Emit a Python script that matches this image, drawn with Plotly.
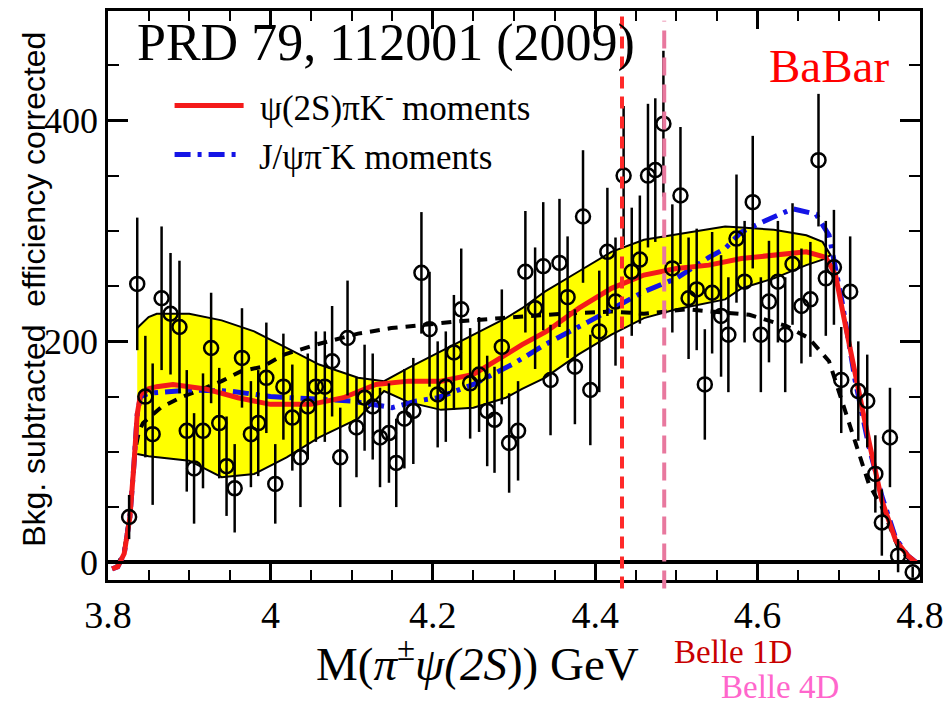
import plotly.graph_objects as go

# ---------------- data ----------------
# measured points: M(pi psi(2S)) [GeV], yield, symmetric error
mass = [3.826, 3.836, 3.846, 3.855, 3.866, 3.877, 3.888, 3.897, 3.906, 3.917,
        3.927, 3.937, 3.946, 3.956, 3.965, 3.976, 3.985, 3.995, 4.006, 4.016,
        4.027, 4.037, 4.046, 4.056, 4.067, 4.076, 4.086, 4.095, 4.106, 4.116,
        4.126, 4.135, 4.146, 4.155, 4.165, 4.176, 4.186, 4.196, 4.206, 4.216,
        4.226, 4.235, 4.246, 4.257, 4.267, 4.276, 4.285, 4.294, 4.305, 4.314,
        4.326, 4.336, 4.345, 4.356, 4.366, 4.375, 4.385, 4.394, 4.405, 4.415,
        4.425, 4.435, 4.445, 4.455, 4.465, 4.474, 4.484, 4.495, 4.505, 4.515,
        4.525, 4.535, 4.544, 4.555, 4.564, 4.574, 4.584, 4.594, 4.604, 4.614,
        4.625, 4.634, 4.643, 4.654, 4.665, 4.675, 4.684, 4.694, 4.703, 4.714,
        4.724, 4.735, 4.745, 4.753, 4.763, 4.773, 4.791]
counts = [41, 252, 150, 116, 239, 225, 213, 119, 85, 119,
          194, 126, 87, 67, 185, 116, 126, 167, 71, 159,
          131, 95, 141, 159, 159, 182, 95, 203, 122, 149,
          141, 113, 117, 90, 130, 137, 262, 211, 152, 159,
          190, 229, 162, 170, 137, 129, 195, 108, 119, 263,
          230, 268, 165, 271, 240, 177, 313, 156, 209, 281,
          236, 350, 263, 274, 350, 355, 397, 266, 332, 239,
          247, 161, 244, 223, 206, 293, 254, 326, 206, 236,
          254, 206, 270, 232, 238, 364, 257, 267, 165, 245,
          155, 146, 80, 36, 113, 6, -9]
errors = [20, 60, 55, 64, 65, 55, 60, 55, 50, 52,
          50, 50, 45, 40, 45, 48, 48, 50, 36, 48,
          48, 45, 48, 50, 50, 50, 45, 52, 45, 48,
          48, 45, 45, 40, 45, 48, 55, 52, 48, 50,
          52, 55, 50, 52, 50, 48, 52, 45, 45, 55,
          55, 58, 50, 58, 55, 52, 60, 50, 55, 58,
          58, 63, 58, 58, 65, 65, 66, 58, 62, 55,
          55, 50, 55, 55, 52, 58, 55, 60, 52, 55,
          55, 52, 55, 52, 52, 60, 52, 52, 48, 50,
          45, 42, 35, 30, 45, 15, 5]

# psi(2S) pi K moments (red)
red_x = [3.805, 3.812, 3.820, 3.827, 3.832, 3.836, 3.840, 3.850, 3.860, 3.880,
         3.900, 3.920, 3.960, 4.000, 4.050, 4.090, 4.130, 4.170, 4.210, 4.250,
         4.290, 4.310, 4.340, 4.380, 4.420, 4.460, 4.500, 4.540, 4.580, 4.620,
         4.660, 4.684, 4.696, 4.708, 4.720, 4.737, 4.753, 4.770, 4.785, 4.795]
red_y = [-6, -4, 8, 41, 89, 134, 152, 157, 159, 161,
         159, 157, 149, 143, 143, 149, 161, 164, 164, 170,
         188, 197, 209, 230, 248, 260, 266, 269, 275, 278,
         281, 276, 260, 215, 170, 110, 56, 20, 6, 0]

# error band of red curve
band_x = [3.836, 3.850, 3.860, 3.900, 3.940, 3.980, 4.020, 4.060, 4.108, 4.140,
          4.170, 4.210, 4.250, 4.290, 4.310, 4.338, 4.379, 4.420, 4.460, 4.500,
          4.560, 4.580, 4.620, 4.660, 4.680, 4.690]
band_hi = [212, 222, 225, 225, 219, 209, 194, 179, 167, 164,
           176, 191, 206, 221, 230, 245, 263, 281, 292, 297,
           304, 303, 301, 296, 290, 278]
band_lo = [98, 96, 95, 92, 77, 80, 95, 113, 130, 155,
           145, 138, 140, 149, 157, 167, 188, 206, 221, 229,
           238, 248, 257, 269, 274, 278]

# J/psi pi K moments (blue)
blue_x = [3.805, 3.812, 3.820, 3.827, 3.832, 3.836, 3.840, 3.850, 3.900, 3.950,
          4.000, 4.050, 4.100, 4.150, 4.180, 4.206, 4.250, 4.300, 4.338, 4.400,
          4.460, 4.500, 4.540, 4.560, 4.580, 4.615, 4.643, 4.672, 4.688, 4.704,
          4.720, 4.737, 4.753, 4.770, 4.785, 4.795]
blue_y = [-6, -4, 8, 41, 89, 134, 150, 153, 156, 155,
          150, 148, 146, 140, 146, 149, 161, 180, 197, 221,
          245, 257, 276, 284, 299, 311, 320, 315, 296, 236,
          165, 105, 60, 22, 6, 0]

# black dashed curve
black_x = [3.810, 3.820, 3.828, 3.833, 3.838, 3.843, 3.865, 3.889, 3.920, 3.940,
           3.964, 3.990, 4.017, 4.041, 4.056, 4.108, 4.149, 4.190, 4.230, 4.283,
           4.360, 4.420, 4.460, 4.513, 4.540, 4.590, 4.635, 4.663, 4.688, 4.708,
           4.720, 4.737, 4.753, 4.773, 4.790]
black_y = [-5, 10, 50, 100, 118, 126, 140, 149, 158, 164,
           173, 177, 188, 194, 197, 207, 212, 215, 218, 221,
           225, 227, 225, 229, 227, 224, 214, 203, 182, 137,
           110, 71, 50, 14, 0]

belle_1d_mass = 4.433
belle_4d_mass = 4.485

x_tickvals = [3.8, 4.0, 4.2, 4.4, 4.6, 4.8]
x_ticktext = ["3.8", "4", "4.2", "4.4", "4.6", "4.8"]
y_tickvals = [0, 200, 400]
y_ticktext = ["0", "200", "400"]

SERIF = "Liberation Serif"
SANS = "Liberation Sans"

fig = go.Figure()

# yellow band
fig.add_trace(go.Scatter(
    x=band_x + band_x[::-1], y=band_hi + band_lo[::-1],
    mode="lines", fill="toself", fillcolor="#ffff00",
    line=dict(color="black", width=2), hoverinfo="skip", showlegend=False))

# black dashed
fig.add_trace(go.Scatter(x=black_x, y=black_y, mode="lines",
                         line=dict(color="black", width=4, dash="10px,8px"),
                         showlegend=False))
# blue dash-dot
fig.add_trace(go.Scatter(x=blue_x, y=blue_y, mode="lines",
                         line=dict(color="#1414e6", width=5, dash="16px,7px,4px,7px"),
                         showlegend=False))
# red solid
fig.add_trace(go.Scatter(x=red_x, y=red_y, mode="lines",
                         line=dict(color="#f41a1a", width=5),
                         showlegend=False))
# data points
fig.add_trace(go.Scatter(
    x=mass, y=counts, mode="markers",
    marker=dict(symbol="circle-open", size=14, color="black",
                line=dict(color="black", width=2.5)),
    error_y=dict(type="data", array=errors, color="black", thickness=2.5, width=0),
    showlegend=False))

shapes = []
# Belle vertical lines
shapes.append(dict(type="line", xref="x", yref="paper", x0=belle_1d_mass, x1=belle_1d_mass,
                   y0=-0.015, y1=1.0, line=dict(color="#ff2a2a", width=4, dash="12px,8px"),
                   layer="above"))
shapes.append(dict(type="line", xref="x", yref="paper", x0=belle_4d_mass, x1=belle_4d_mass,
                   y0=-0.015, y1=0.983, line=dict(color="#e8789e", width=4, dash="18px,9px"),
                   layer="above"))
# legend samples
shapes.append(dict(type="line", xref="paper", yref="paper", x0=0.082, x1=0.167,
                   y0=0.834, y1=0.834, line=dict(color="#f41a1a", width=5)))
shapes.append(dict(type="line", xref="paper", yref="paper", x0=0.082, x1=0.158,
                   y0=0.748, y1=0.748, line=dict(color="#1414e6", width=5, dash="16px,7px,4px,7px")))

annotations = [
    dict(text="PRD 79, 112001 (2009)", xref="paper", yref="paper", x=0.033, y=0.944,
         xanchor="left", yanchor="middle", showarrow=False,
         font=dict(family=SERIF, size=52, color="black")),
    dict(text="ψ(2S)πK<sup>-</sup> moments", xref="paper", yref="paper", x=0.185, y=0.834,
         xanchor="left", yanchor="middle", showarrow=False,
         font=dict(family=SERIF, size=35, color="black")),
    dict(text="J/ψπ<sup>-</sup>K moments", xref="paper", yref="paper", x=0.183, y=0.748,
         xanchor="left", yanchor="middle", showarrow=False,
         font=dict(family=SERIF, size=35, color="black")),
    dict(text="BaBar", xref="paper", yref="paper", x=0.888, y=0.904,
         xanchor="center", yanchor="middle", showarrow=False,
         font=dict(family=SERIF, size=47, color="#ff0000")),
    dict(text="Bkg. subtracted  efficiency corrected", xref="paper", yref="paper",
         x=0, y=0.51, xanchor="center", yanchor="middle", xshift=-74, textangle=-90,
         showarrow=False, font=dict(family=SANS, size=32, color="black")),
    dict(text="M(<i>π</i><sup>±</sup><i>ψ(2S</i>)) GeV", xref="paper", yref="paper",
         x=0.455, y=0, xanchor="center", yanchor="middle", yshift=-80,
         showarrow=False, font=dict(family=SERIF, size=47, color="black")),
    dict(text="Belle 1D", xref="paper", yref="paper", x=0.77, y=0,
         xanchor="center", yanchor="middle", yshift=-72, showarrow=False, borderpad=0,
         font=dict(family=SERIF, size=33, color="#c80000")),
    dict(text="Belle 4D", xref="paper", yref="paper", x=0.828, y=0,
         xanchor="center", yanchor="middle", yshift=-107, showarrow=False, borderpad=0,
         font=dict(family=SERIF, size=33, color="#ff66cc")),
]

fig.update_layout(
    width=952, height=705,
    margin=dict(l=108, r=25, t=8, b=125),
    paper_bgcolor="white", plot_bgcolor="white",
    shapes=shapes, annotations=annotations,
    showlegend=False,
    xaxis=dict(range=[3.8, 4.8], tickmode="array", tickvals=x_tickvals, ticktext=x_ticktext,
               ticks="inside", ticklen=18, tickwidth=2.5, tickcolor="black",
               showline=True, linewidth=2.5, linecolor="black", mirror="allticks",
               showgrid=False, zeroline=False,
               tickfont=dict(family=SERIF, size=38, color="black"),
               minor=dict(ticks="inside", ticklen=10, tickwidth=2, tickcolor="black",
                          tickmode="linear", tick0=3.8, dtick=0.05, showgrid=False)),
    yaxis=dict(range=[-16, 499], tickmode="array", tickvals=y_tickvals, ticktext=y_ticktext,
               ticks="inside", ticklen=20, tickwidth=2.5, tickcolor="black",
               showline=True, linewidth=2.5, linecolor="black", mirror="allticks",
               showgrid=False, zeroline=True, zerolinecolor="black", zerolinewidth=4,
               tickfont=dict(family=SERIF, size=36, color="black"),
               minor=dict(ticks="inside", ticklen=11, tickwidth=2, tickcolor="black",
                          tickmode="linear", tick0=0, dtick=50, showgrid=False)),
)

fig.write_html("out.html")
